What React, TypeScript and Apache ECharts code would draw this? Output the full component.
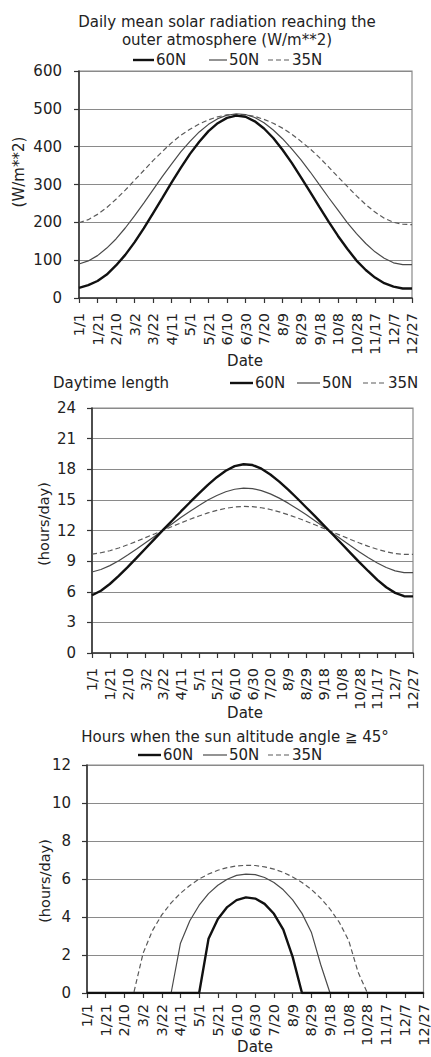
import React, { useEffect, useRef } from 'react';
import * as echarts from 'echarts';

// Dates every 10 days (category axis)
const dates = ['1/1','1/11','1/21','1/31','2/10','2/20','3/2','3/12','3/22','4/1','4/11','4/21','5/1','5/11','5/21','5/31','6/10','6/20','6/30','7/10','7/20','7/30','8/9','8/19','8/29','9/8','9/18','9/28','10/8','10/18','10/28','11/7','11/17','11/27','12/7','12/17','12/27'];

// Chart 1: daily mean solar radiation at top of atmosphere (W/m**2)
const radiation60N = [27, 34, 45, 62, 86, 114, 147, 184, 224, 264, 305, 344, 381, 413, 441, 462, 476, 482, 479, 467, 448, 423, 392, 357, 319, 280, 240, 201, 164, 130, 99, 74, 54, 39, 30, 25, 25];
const radiation50N = [90, 98, 112, 132, 156, 185, 217, 251, 286, 321, 354, 386, 414, 439, 459, 474, 483, 487, 485, 477, 463, 444, 421, 394, 365, 333, 299, 265, 232, 199, 170, 144, 122, 105, 93, 88, 88];
const radiation35N = [199, 207, 221, 239, 261, 285, 311, 337, 363, 387, 410, 430, 446, 460, 471, 479, 484, 485, 484, 480, 472, 462, 449, 433, 414, 394, 371, 346, 320, 295, 270, 247, 227, 211, 200, 195, 194];

// Chart 2: daytime length (hours/day)
const daylen60N = [5.66, 6.10, 6.76, 7.55, 8.42, 9.32, 10.24, 11.16, 12.08, 12.98, 13.89, 14.77, 15.64, 16.47, 17.22, 17.85, 18.30, 18.49, 18.41, 18.06, 17.49, 16.79, 16.00, 15.16, 14.28, 13.40, 12.51, 11.61, 10.70, 9.79, 8.88, 8.01, 7.17, 6.44, 5.89, 5.56, 5.55];
const daylen50N = [7.93, 8.18, 8.56, 9.04, 9.59, 10.18, 10.80, 11.42, 12.05, 12.67, 13.29, 13.88, 14.45, 14.98, 15.43, 15.80, 16.04, 16.15, 16.10, 15.91, 15.59, 15.17, 14.68, 14.14, 13.56, 12.96, 12.35, 11.73, 11.11, 10.50, 9.90, 9.33, 8.81, 8.37, 8.05, 7.88, 7.88];
const daylen35N = [9.69, 9.82, 10.02, 10.29, 10.60, 10.94, 11.30, 11.66, 12.03, 12.40, 12.75, 13.10, 13.42, 13.72, 13.97, 14.17, 14.30, 14.36, 14.33, 14.23, 14.06, 13.83, 13.55, 13.24, 12.91, 12.56, 12.20, 11.84, 11.48, 11.12, 10.77, 10.45, 10.16, 9.92, 9.75, 9.66, 9.66];

// Chart 3: hours when sun altitude >= 45 deg (hours/day)
const sun45_60N = [0, 0, 0, 0, 0, 0, 0, 0, 0, 0, 0, 0, 0, 2.85, 3.9, 4.52, 4.89, 5.03, 4.97, 4.69, 4.17, 3.33, 1.9, 0, 0, 0, 0, 0, 0, 0, 0, 0, 0, 0, 0, 0, 0];
const sun45_50N = [0, 0, 0, 0, 0, 0, 0, 0, 0, 0, 2.62, 3.80, 4.62, 5.23, 5.67, 5.99, 6.19, 6.26, 6.23, 6.08, 5.82, 5.43, 4.90, 4.19, 3.20, 1.50, 0, 0, 0, 0, 0, 0, 0, 0, 0, 0, 0];
const sun45_35N = [0, 0, 0, 0, 0, 0, 2.09, 3.28, 4.11, 4.74, 5.25, 5.66, 6.00, 6.26, 6.46, 6.60, 6.69, 6.72, 6.71, 6.64, 6.52, 6.35, 6.11, 5.82, 5.45, 4.99, 4.42, 3.71, 2.76, 1.10, 0, 0, 0, 0, 0, 0, 0];

const yMax = [600, 24, 12];
const yStep = [100, 3, 2];

const FONT = 'DejaVu Sans';
const TXT = '#222';

export default function App() {
  const ref = useRef<HTMLDivElement>(null);

  useEffect(() => {
    if (!ref.current) return;
    const chart = echarts.init(ref.current, null, { renderer: 'svg' });

    const grids = [
      { left: 79, top: 71, width: 333, height: 227 },
      { left: 92, top: 408, width: 321, height: 245 },
      { left: 87, top: 765, width: 337, height: 228 },
    ];
    const labelMargins = [15, 15, 11];
    const yLabelMargins = [17, 16, 16];

    const xAxes = grids.map((_, i) => ({
      type: 'category',
      gridIndex: i,
      data: dates,
      boundaryGap: false,
      axisLine: { show: true, lineStyle: { color: '#333', width: 1.6 } },
      axisTick: { show: true, interval: 1, length: 5, lineStyle: { color: '#333', width: 1.2 } },
      axisLabel: { interval: 1, rotate: 90, fontSize: 14.5, fontFamily: FONT, color: TXT, margin: labelMargins[i] },
      splitLine: { show: false },
    }));

    const yAxes = grids.map((_, i) => ({
      type: 'value',
      gridIndex: i,
      min: 0,
      max: yMax[i],
      interval: yStep[i],
      axisLine: { show: true, lineStyle: { color: '#333', width: 1.6 } },
      axisTick: { show: true, length: 5, lineStyle: { color: '#333', width: 1.2 } },
      axisLabel: { fontSize: 15, fontFamily: FONT, color: TXT, margin: yLabelMargins[i] },
      splitLine: { show: true, lineStyle: { color: '#8a8a8a', width: 1.2 } },
    }));

    const mk = (data: number[], i: number, kind: number) => ({
      type: 'line',
      xAxisIndex: i,
      yAxisIndex: i,
      data,
      symbol: 'none',
      showSymbol: false,
      z: kind === 0 ? 5 : kind === 1 ? 4 : 3,
      lineStyle:
        kind === 0
          ? { color: '#111', width: 2.4, type: 'solid' }
          : kind === 1
          ? { color: '#4a4a4a', width: 1.2, type: 'solid' }
          : { color: '#5a5a5a', width: 1.2, type: [5, 3] },
    });

    const series = [
      mk(radiation35N, 0, 2), mk(radiation50N, 0, 1), mk(radiation60N, 0, 0),
      mk(daylen35N, 1, 2), mk(daylen50N, 1, 1), mk(daylen60N, 1, 0),
      mk(sun45_35N, 2, 2), mk(sun45_50N, 2, 1), mk(sun45_60N, 2, 0),
    ];

    const text = (t: string, x: number, y: number, align: string, size = 15, rotation = 0) => ({
      type: 'text',
      x,
      y,
      rotation,
      silent: true,
      style: { text: t, fontSize: size, fontFamily: FONT, fill: TXT, align, verticalAlign: 'middle' },
    });

    const legend = (y: number, pos: number[]) => {
      const [l1a, l1b, t1, l2a, l2b, t2, l3a, l3b, t3] = pos;
      return [
        { type: 'line', silent: true, shape: { x1: l1a, y1: y, x2: l1b, y2: y }, style: { stroke: '#111', lineWidth: 2.4 } },
        text('60N', t1, y, 'left'),
        { type: 'line', silent: true, shape: { x1: l2a, y1: y, x2: l2b, y2: y }, style: { stroke: '#4a4a4a', lineWidth: 1.2 } },
        text('50N', t2, y, 'left'),
        { type: 'line', silent: true, shape: { x1: l3a, y1: y, x2: l3b, y2: y }, style: { stroke: '#5a5a5a', lineWidth: 1.2, lineDash: [5, 3] } },
        text('35N', t3, y, 'left'),
      ];
    };

    const graphic = [
      text('Daily mean solar radiation reaching the', 227, 22, 'center'),
      text('outer atmosphere (W/m**2)', 227, 40, 'center'),
      ...legend(60, [133, 154, 156, 209, 227, 229, 268, 290, 292]),
      text('(W/m**2)', 19, 172, 'center', 15, Math.PI / 2),
      text('Date', 245, 361, 'center'),

      text('Daytime length', 53, 383, 'left'),
      ...legend(383, [230, 253, 255, 297, 320, 322, 363, 387, 388]),
      text('(hours/day)', 44, 524, 'center', 14.5, Math.PI / 2),
      text('Date', 245, 713, 'center'),

      text('Hours when the sun altitude angle ≧ 45°', 235, 737, 'center'),
      ...legend(755, [138, 161, 163, 203, 227, 229, 268, 290, 292]),
      text('(hours/day)', 45, 881, 'center', 14.5, Math.PI / 2),
      text('Date', 255, 1047, 'center'),
    ];

    chart.setOption({
      animation: false,
      backgroundColor: '#fff',
      grid: grids.map((g) => ({ ...g, show: true, borderColor: '#8a8a8a', borderWidth: 1.2, backgroundColor: 'transparent' })),
      xAxis: xAxes,
      yAxis: yAxes,
      series,
      graphic,
    } as any);

    return () => chart.dispose();
  }, []);

  return (
    <div
      ref={ref}
      style={{ position: 'absolute', left: 0, top: 0, width: 431, height: 1057, background: '#fff' }}
    />
  );
}
